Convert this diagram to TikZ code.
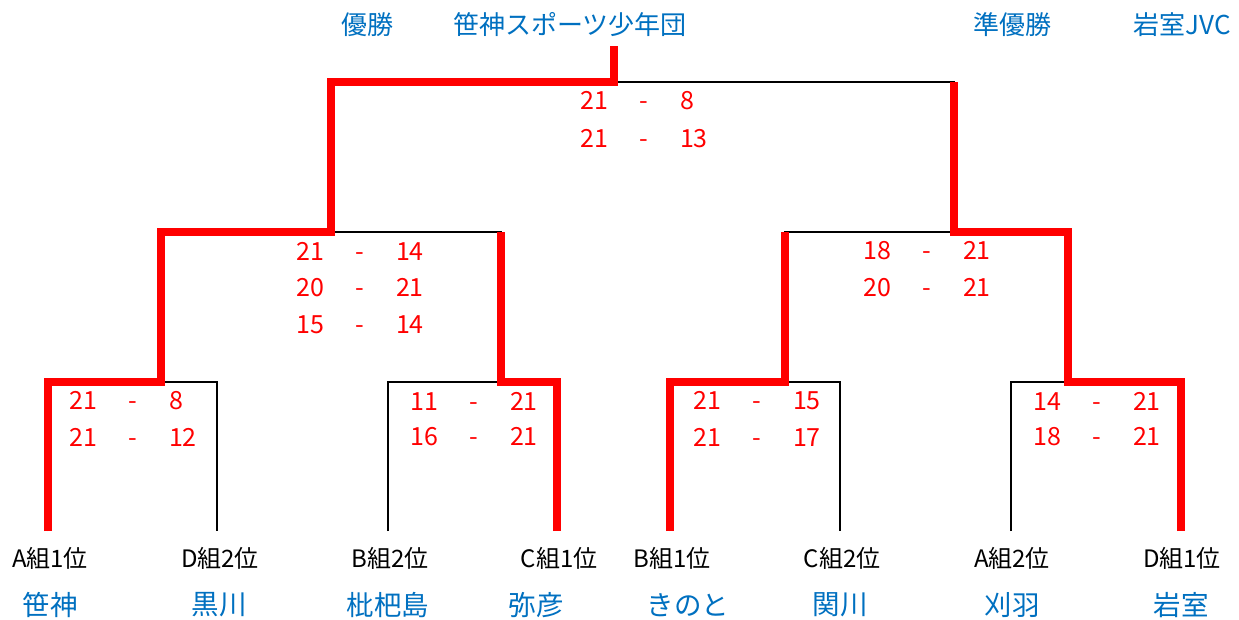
\documentclass[tikz,border=0pt]{standalone}
\usepackage{fontspec}
\setmainfont{Noto Sans CJK JP}
\definecolor{teamblue}{RGB}{0,112,192}
\newcommand{\scoreline}[2]{\makebox[28pt][r]{#1}\makebox[72pt]{-}\makebox[28pt][l]{#2}}

\begin{document}
\begin{tikzpicture}[x=1pt, y=-1pt,
		line/.style = {black, line width=2.4pt},
		win/.style = {red, line width=8pt},
		title/.style = {text=teamblue, font=\fontsize{26}{30}\selectfont, inner sep=0pt},
		team/.style = {text=teamblue, font=\fontsize{27.5}{32}\selectfont, inner sep=0pt},
		seed/.style = {font=\fontsize{24}{28}\selectfont, inner sep=0pt},
		score/.style = {text=red, font=\fontsize{25}{30}\selectfont, inner sep=0pt}]
		\useasboundingbox (0,0) rectangle (1239,619);

		% leaves, matches
		\coordinate (l1) at (48,531);
		\coordinate (l2) at (217,531);
		\coordinate (l3) at (388,531);
		\coordinate (l4) at (557,531);
		\coordinate (l5) at (670,531);
		\coordinate (l6) at (840,531);
		\coordinate (l7) at (1011,531);
		\coordinate (l8) at (1181,531);
		\coordinate (m1) at (161,382);
		\coordinate (m2) at (501,382);
		\coordinate (m3) at (785,382);
		\coordinate (m4) at (1068,382);
		\coordinate (s1) at (331,232);
		\coordinate (s2) at (954,232);
		\coordinate (fin) at (614,82);
		\coordinate (top) at (614,46);

		% brackets
		\draw [line] (l1) |- (m1) -| (l2);
		\draw [line] (l3) |- (m2) -| (l4);
		\draw [line] (l5) |- (m3) -| (l6);
		\draw [line] (l7) |- (m4) -| (l8);
		\draw [line] (m1) |- (s1) -| (m2);
		\draw [line] (m3) |- (s2) -| (m4);
		\draw [line] (s1) |- (fin) -| (s2);

		% winners
		\draw [win] (l1) |- (m1) |- (s1) |- (fin) -- (top);
		\draw [win] (l4) |- (m2) -- (m2 |- s1);
		\draw [win] (l5) |- (m3) -- (m3 |- s2);
		\draw [win] (l8) |- (m4) |- (s2) -- (s2 |- fin);

		% titles
		\node [title] (wintitle) at (367,25) {優勝};
		\node [title] (winner) at (570,25) {笹神スポーツ少年団};
		\node [title] (runtitle) at (1012,25) {準優勝};
		\node [title] (runner) at (1182,25) {岩室JVC};

		% scores
		\node [score] (f1) at (644,101) {\scoreline{21}{8}};
		\node [score] (f2) at (644,139) {\scoreline{21}{13}};
		\node [score] (sa1) at (360,251) {\scoreline{21}{14}};
		\node [score] (sa2) at (360,288) {\scoreline{20}{21}};
		\node [score] (sa3) at (360,325) {\scoreline{15}{14}};
		\node [score] (sb1) at (927,251) {\scoreline{18}{21}};
		\node [score] (sb2) at (927,288) {\scoreline{20}{21}};
		\node [score] (ma1) at (133,401) {\scoreline{21}{8}};
		\node [score] (ma2) at (133,437) {\scoreline{21}{12}};
		\node [score] (mb1) at (474,401) {\scoreline{11}{21}};
		\node [score] (mb2) at (474,437) {\scoreline{16}{21}};
		\node [score] (mc1) at (757,401) {\scoreline{21}{15}};
		\node [score] (mc2) at (757,437) {\scoreline{21}{17}};
		\node [score] (md1) at (1097,401) {\scoreline{14}{21}};
		\node [score] (md2) at (1097,437) {\scoreline{18}{21}};

		% seeds
		\node [seed] (seed1) at (50,558) {A組1位};
		\node [seed] (seed2) at (220,558) {D組2位};
		\node [seed] (seed3) at (390,558) {B組2位};
		\node [seed] (seed4) at (559,558) {C組1位};
		\node [seed] (seed5) at (672,558) {B組1位};
		\node [seed] (seed6) at (842,558) {C組2位};
		\node [seed] (seed7) at (1012,558) {A組2位};
		\node [seed] (seed8) at (1182,558) {D組1位};

		% teams
		\node [team] (sasakami) at (50,605) {笹神};
		\node [team] (kurokawa) at (219,605) {黒川};
		\node [team] (biwajima) at (388,605) {枇杷島};
		\node [team] (yahiko) at (536,605) {弥彦};
		\node [team] (kinoto) at (688,605) {きのと};
		\node [team] (sekikawa) at (840,605) {関川};
		\node [team] (kariwa) at (1012,605) {刈羽};
		\node [team] (iwamuro) at (1181,605) {岩室};
	\end{tikzpicture}
\end{document}
